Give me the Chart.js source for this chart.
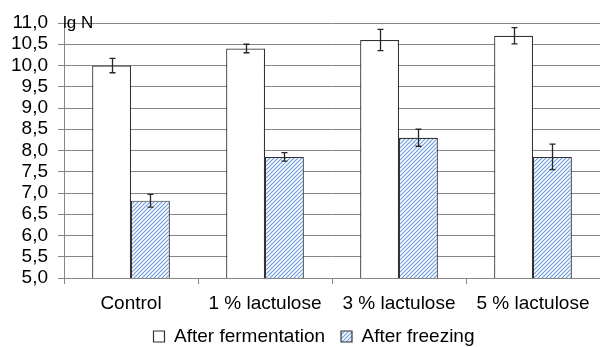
<!DOCTYPE html>
<html>
<head>
<meta charset="utf-8">
<script src="https://cdn.jsdelivr.net/npm/chart.js@4/dist/chart.umd.min.js"></script>
<style>
  html, body { margin: 0; padding: 0; background: #fff; }
  #wrap { width: 600px; height: 347px; }
</style>
</head>
<body>
<div id="wrap"><canvas id="c" width="600" height="347"></canvas></div>
<script>
// Categories and series (lg N)
const categories = ['Control', '1 % lactulose', '3 % lactulose', '5 % lactulose'];
const seriesNames = ['After fermentation', 'After freezing'];
const afterFermentation = [10.0, 10.4, 10.6, 10.7];
const afterFermentationErr = [0.17, 0.10, 0.25, 0.19];
const afterFreezing = [6.82, 7.85, 8.3, 7.85];
const afterFreezingErr = [0.15, 0.10, 0.20, 0.30];
const yAxisTitle = 'lg N';

const FONT = 'Liberation Sans, Arial, sans-serif';

// Diagonal blue hatch fill
function makeHatch() {
  const s = 4;
  const cv = document.createElement('canvas');
  cv.width = s; cv.height = s;
  const g = cv.getContext('2d');
  g.fillStyle = '#ffffff';
  g.fillRect(0, 0, s, s);
  g.strokeStyle = '#6d9de0';
  g.lineWidth = 1.15;
  g.beginPath();
  g.moveTo(-1, s + 1); g.lineTo(s + 1, -1);
  g.moveTo(-1, 1); g.lineTo(1, -1);
  g.moveTo(s - 1, s + 1); g.lineTo(s + 1, s - 1);
  g.stroke();
  return g.createPattern(cv, 'repeat');
}
const ctx = document.getElementById('c').getContext('2d');
const hatch = makeHatch();

// Error bars with caps, drawn from each dataset's err array
const errorBars = {
  id: 'errorBars',
  afterDatasetsDraw(chart) {
    const c = chart.ctx;
    const y = chart.scales.y;
    c.save();
    c.strokeStyle = '#262626';
    c.lineWidth = 1.3;
    chart.data.datasets.forEach((ds, di) => {
      const meta = chart.getDatasetMeta(di);
      meta.data.forEach((bar, i) => {
        const v = ds.data[i], e = ds.err[i];
        const x = Math.round(bar.x) + 0.5;
        const yt = y.getPixelForValue(v + e);
        const yb = y.getPixelForValue(v - e);
        c.beginPath();
        c.moveTo(x, yt); c.lineTo(x, yb);
        c.moveTo(x - 3, yt); c.lineTo(x + 3, yt);
        c.moveTo(x - 3, yb); c.lineTo(x + 3, yb);
        c.stroke();
      });
    });
    c.restore();
  }
};

// Axis caption at top-left of the plot area
const axisCaption = {
  id: 'axisCaption',
  afterDraw(chart) {
    const c = chart.ctx;
    c.save();
    c.fillStyle = '#000';
    c.font = '17px ' + FONT;
    c.textBaseline = 'alphabetic';
    c.textAlign = 'left';
    c.fillText(yAxisTitle, chart.chartArea.left - 1, chart.chartArea.top + 5);
    c.restore();
  }
};

// Centre the legend row a little right of the canvas middle
const legendShift = {
  id: 'legendShift',
  beforeDraw(chart) {
    if (chart.legend) chart.legend.left = 28;
  }
};

new Chart(ctx, {
  type: 'bar',
  data: {
    labels: categories,
    datasets: [
      {
        label: seriesNames[0],
        data: afterFermentation,
        err: afterFermentationErr,
        backgroundColor: '#ffffff',
        borderColor: '#333333',
        borderWidth: 1.2,
        barPercentage: 1.0,
        categoryPercentage: 0.58
      },
      {
        label: seriesNames[1],
        data: afterFreezing,
        err: afterFreezingErr,
        backgroundColor: hatch,
        borderColor: '#333333',
        borderWidth: 1.2,
        barPercentage: 1.0,
        categoryPercentage: 0.58
      }
    ]
  },
  options: {
    responsive: false,
    animation: false,
    devicePixelRatio: 1,
    layout: { padding: { top: 23, right: 0, left: 0, bottom: -9 } },
    plugins: {
      tooltip: { enabled: false },
      legend: {
        position: 'bottom',
        labels: {
          color: '#000',
          font: { family: FONT, size: 19 },
          boxWidth: 11,
          boxHeight: 11,
          padding: 16
        }
      }
    },
    scales: {
      x: {
        offset: true,
        grid: {
          offset: true,
          drawOnChartArea: false,
          drawTicks: true,
          tickLength: 6,
          color: '#868686'
        },
        border: { display: false },
        ticks: {
          color: '#000',
          font: { family: FONT, size: 19 },
          padding: 8,
          maxRotation: 0,
          autoSkip: false
        },
        afterFit(scale) { scale.height = 33; }
      },
      y: {
        min: 5,
        max: 11,
        grid: {
          color: '#868686',
          lineWidth: 1,
          drawTicks: true,
          tickLength: 6
        },
        border: { display: true, color: '#868686', width: 1 },
        ticks: {
          stepSize: 0.5,
          autoSkip: false,
          color: '#000',
          font: { family: FONT, size: 19 },
          padding: 10,
          callback: (v) => Number(v).toFixed(1).replace('.', ',')
        },
        afterFit(scale) { scale.width = 64; }
      }
    }
  },
  plugins: [errorBars, axisCaption, legendShift]
});
</script>
</body>
</html>
